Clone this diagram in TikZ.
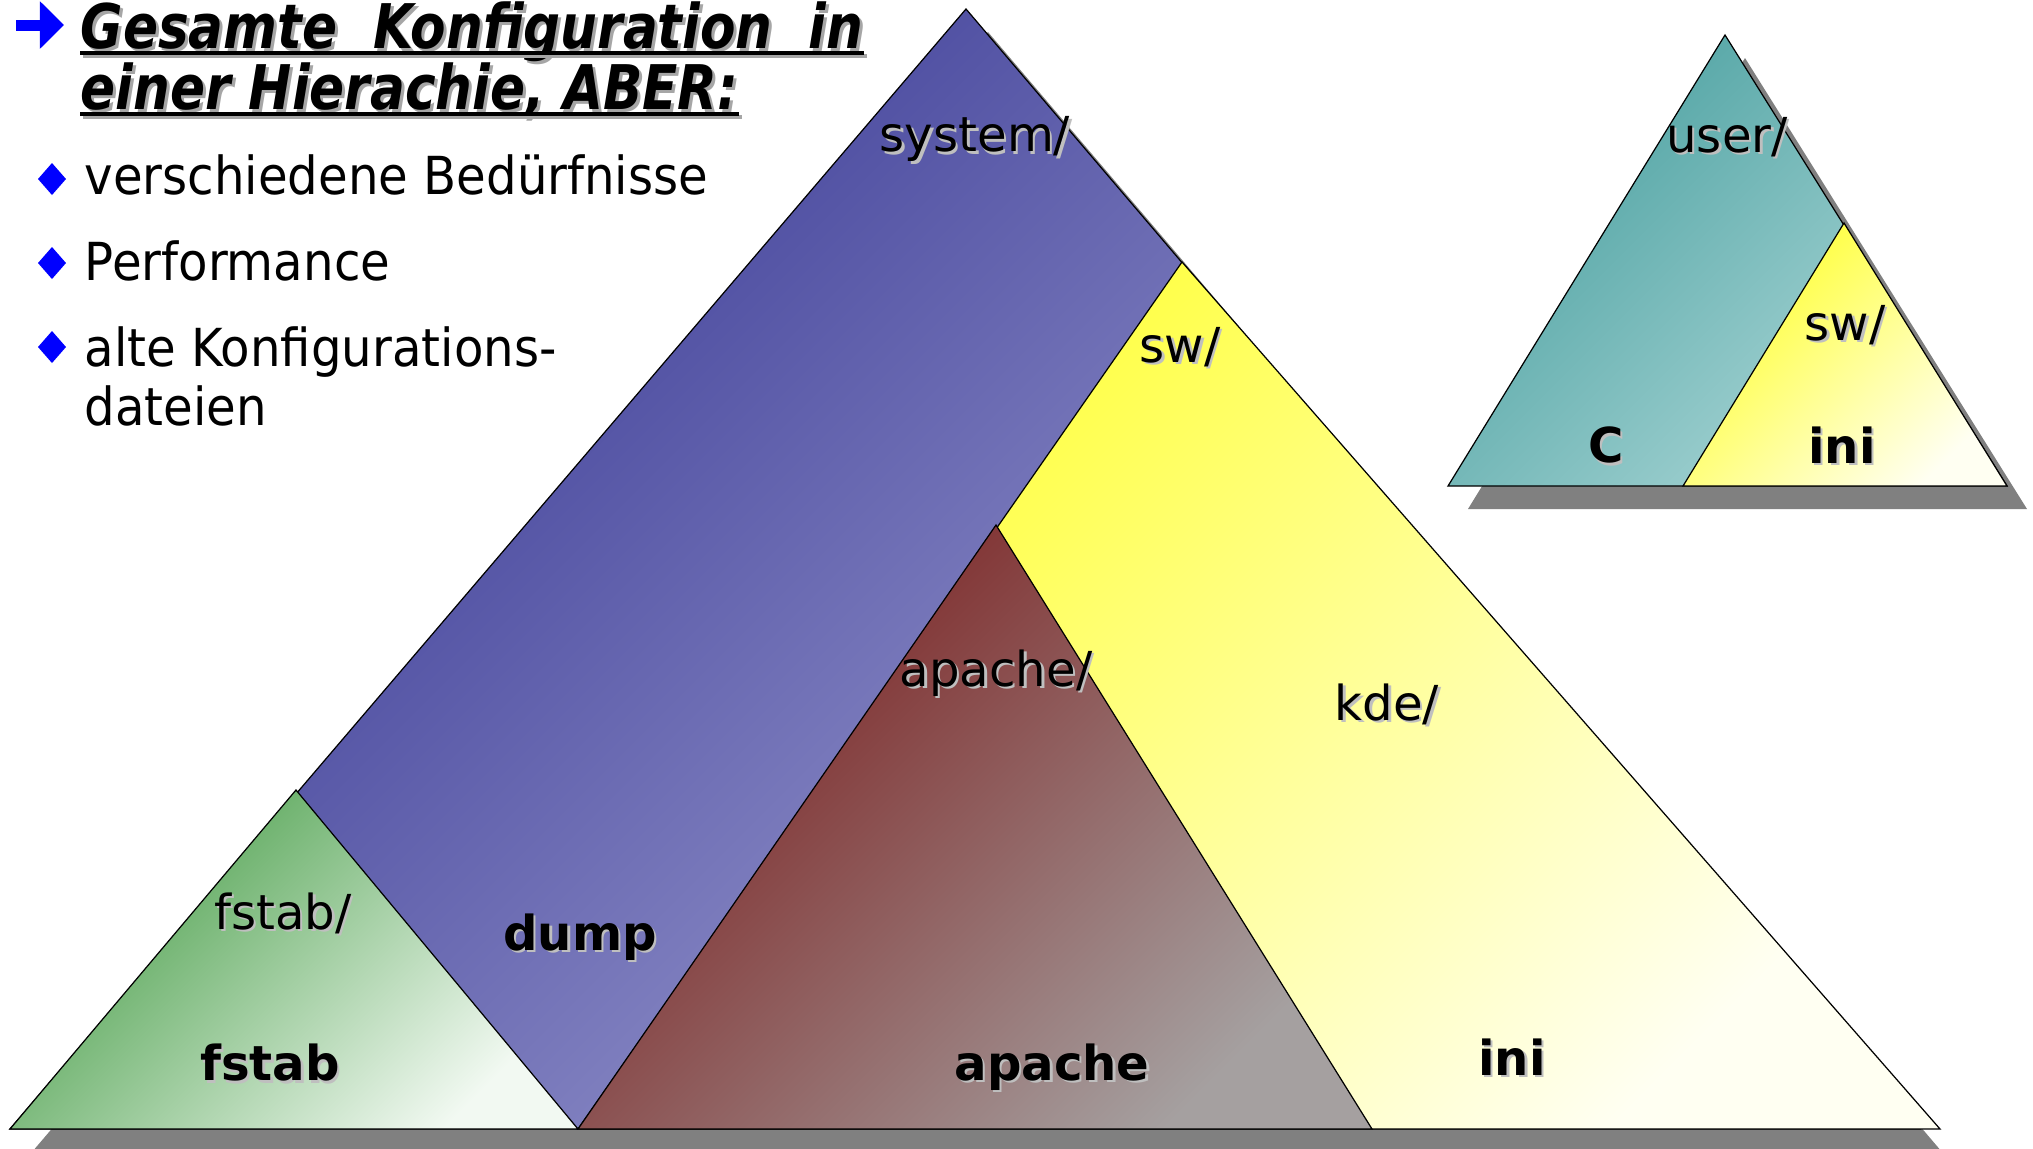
\documentclass[tikz,border=0pt]{standalone}
\usepackage{fontspec}
\setmainfont{DejaVu Sans}
\newfontfamily\slidefont[FakeStretch=0.92]{DejaVu Sans}
\newfontfamily\headfont[FakeStretch=0.84]{DejaVu Sans}
\usetikzlibrary{arrows.meta}

\definecolor{sysDark}{RGB}{52,52,146}
\definecolor{sysLight}{RGB}{180,180,222}
\definecolor{fsDark}{RGB}{72,158,72}
\definecolor{fsLight}{RGB}{242,249,242}
\definecolor{swDark}{RGB}{255,255,40}
\definecolor{swLight}{RGB}{255,255,242}
\definecolor{apDark}{RGB}{122,28,28}
\definecolor{apLight}{RGB}{165,160,160}
\definecolor{usrDark}{RGB}{74,160,160}
\definecolor{usrLight}{RGB}{175,217,217}
\definecolor{shadowgray}{RGB}{128,128,128}

\tikzset{%
  % faces of the hierarchy triangles
        face/.style = {draw=black, line width=0.35pt},
     sysface/.style = {face, top color=sysDark, bottom color=sysLight, shading angle=45},
      fsface/.style = {face, top color=fsDark, bottom color=fsLight, shading angle=45},
      swface/.style = {face, top color=swDark, bottom color=swLight, shading angle=45},
      apface/.style = {face, top color=apDark, bottom color=apLight, shading angle=45},
     usrface/.style = {face, top color=usrDark, bottom color=usrLight, shading angle=45},
  dropshadow/.style = {fill=shadowgray},
  % texts
         dir/.style = {inner sep=0pt, font=\fontsize{13.7}{16}\selectfont},
        file/.style = {inner sep=0pt, font=\fontsize{13.7}{16}\selectfont\bfseries},
       ghost/.style = {text=black!25, xshift=0.025cm, yshift=-0.025cm},
       title/.style = {inner sep=0pt, anchor=base west,
                       font=\headfont\fontsize{17.5}{20}\selectfont\bfseries\itshape},
        item/.style = {inner sep=0pt, anchor=base west,
                       font=\slidefont\fontsize{14.9}{17}\selectfont},
}

% label with its light shadow
\newcommand{\dirnode}[4]{%
  \node[#2, ghost] at (#3) {#4};
  \node[#2] (#1) at (#3) {#4};}

\begin{document}
\begin{tikzpicture}[x=0.01cm, y=-0.01cm]
  \useasboundingbox (0,0) rectangle (2033,1148);
  % corners of the system hierarchy
  \coordinate (sysTop) at (966,9);
  \coordinate (sysL)   at (10,1129);
  \coordinate (sysR)   at (1920,1129);
  \coordinate (fsTop)  at (296,790);
  \coordinate (fsR)    at (578,1129);
  \coordinate (swTop)  at (1182,262);
  \coordinate (swR)    at (1940,1129);
  \coordinate (apTop)  at (996,525);
  \coordinate (apR)    at (1372,1129);
  % corners of the user hierarchy
  \coordinate (usrTop) at (1725,35);
  \coordinate (usrL)   at (1448,486);
  \coordinate (usrR)   at (2007,486);
  \coordinate (uswTop) at (1844,223);
  \coordinate (uswL)   at (1683,486);

  % shadows
  \path[dropshadow] ([shift={(22,23)}]sysTop) -- ([shift={(22,23)}]sysL)
     -- ([shift={(22,23)}]sysR) -- cycle;
  \path[dropshadow] ([shift={(20,23)}]usrTop) -- ([shift={(20,23)}]usrL)
     -- ([shift={(20,23)}]usrR) -- cycle;

  % system/ and its subtrees
  \path[sysface] (sysTop) -- (sysL) -- (sysR) -- cycle;
  \path[fsface]  (fsTop) -- (sysL) -- (fsR) -- cycle;
  \path[swface]  (swTop) -- (fsR) -- (swR) -- cycle;
  \path[apface]  (apTop) -- (fsR) -- (apR) -- cycle;

  % user/ and its subtree
  \path[usrface] (usrTop) -- (usrL) -- (usrR) -- cycle;
  \path[swface]  (uswTop) -- (uswL) -- (usrR) -- cycle;

  \dirnode{lSystem}{dir}{975,139}{system/}
  \dirnode{lSw}{dir}{1180,347}{sw/}
  \dirnode{lApache}{dir}{996,673}{apache/}
  \dirnode{lKde}{dir}{1387,704}{kde/}
  \dirnode{lFstab}{dir}{283,913}{fstab/}
  \dirnode{fDump}{file}{580,937}{dump}
  \dirnode{fFstab}{file}{270,1063}{fstab}
  \dirnode{fApache}{file}{1052,1067}{apache}
  \dirnode{fIni}{file}{1512,1057}{ini}
  \dirnode{lUser}{dir}{1727,137}{user/}
  \dirnode{lUsw}{dir}{1845,325}{sw/}
  \dirnode{fC}{file}{1606,445}{C}
  \dirnode{fUini}{file}{1842,445}{ini}

  % heading
  \draw[blue, line width=0.11cm, -{Triangle[length=0.24cm, width=0.46cm]}]
     (16,25) -- (64,25);
  \node[title, text=black!35] at (83,51) {Gesamte\ \ Konfiguration\ \ in};
  \node[title] (head1) at (80,48) {Gesamte\ \ Konfiguration\ \ in};
  \node[title, text=black!35] at (83,112) {einer Hierachie, ABER:};
  \node[title] (head2) at (80,109) {einer Hierachie, ABER:};
  \draw[black!35, line width=0.9pt] ([shift={(0.03cm,-0.08cm)}]head1.base west)
     -- ([shift={(0.03cm,-0.08cm)}]head1.base east);
  \draw[line width=0.9pt] ([yshift=-0.05cm]head1.base west) -- ([yshift=-0.05cm]head1.base east);
  \draw[black!35, line width=0.9pt] ([shift={(0.03cm,-0.08cm)}]head2.base west)
     -- ([shift={(0.03cm,-0.08cm)}]head2.base east);
  \draw[line width=0.9pt] ([yshift=-0.05cm]head2.base west) -- ([yshift=-0.05cm]head2.base east);

  % bullet list
  \foreach \y in {179,263,347}
    \fill[blue] (38,\y) -- (52,\y-16) -- (66,\y) -- (52,\y+16) -- cycle;
  \node[item] (t1) at (84,194) {verschiedene Bedürfnisse};
  \node[item] (t2) at (84,280) {Performance};
  \node[item] (t3) at (84,366) {alte Konfigurations-};
  \node[item] (t3b) at (84,425) {dateien};
\end{tikzpicture}
\end{document}
